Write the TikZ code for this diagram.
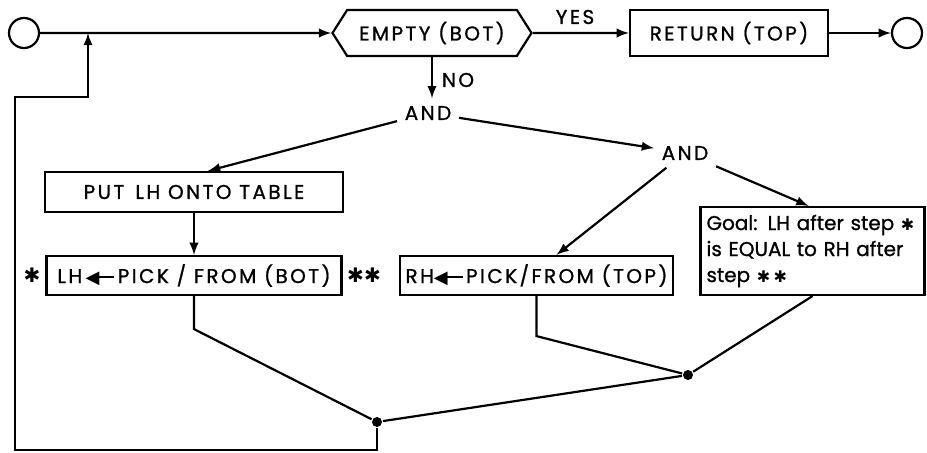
\documentclass[tikz,border=0pt]{standalone}
\usepackage{fontspec}
\setmainfont{Poppins}
\newfontfamily\lblfont{Poppins}[LetterSpace=12, FakeBold=1]
\newfontfamily\goalfont{Poppins}[FakeBold=1]
\newfontfamily\symfont{DejaVu Sans}
\newcommand{\bigstar}{{\symfont ✱}}
\newcommand{\smallstar}{{\symfont\footnotesize ✱}}
\newcommand{\larrow}{{\symfont\small ◀}\kern-2.5pt\rule[2.6pt]{10pt}{0.9pt}}
\usetikzlibrary{shapes.symbols}

\begin{document}
\begin{tikzpicture}[x=0.5pt, y=-0.5pt, line width=1.1pt,
    font=\fontsize{10}{13}\lblfont,
    box/.style={draw, rectangle, inner sep=0pt, minimum height=20pt},
    term/.style={draw, circle, minimum size=15pt, inner sep=0pt},
    joindot/.style={fill, circle, inner sep=0pt, minimum size=5pt}]

  \useasboundingbox (0,0) rectangle (927,453);

  % top row
  \node[term] (start) at (24,33) {};
  \node[draw, signal, signal to=west and east, signal pointer angle=115,
        minimum width=99.5pt, minimum height=23pt, inner sep=0pt] (test) at (432,33) {EMPTY (BOT)};
  \node[box, minimum width=99pt, minimum height=23pt] (ret) at (729,33) {RETURN (TOP)};
  \node[term] (stop) at (907,33) {};
  \node[anchor=center] (yes) at (575,17) {YES};
  \node[anchor=center] (no) at (458,80) {NO};

  \draw[-latex] (start) -- (test);
  \draw[-latex] (test) -- (ret);
  \draw[-latex] (ret) -- (stop);

  % the two ANDs
  \node (and1) at (428,113) {AND};
  \node (and2) at (685,153) {AND};
  \draw[-latex] (test.south) -- (test.south |- and1.north);
  \draw[-latex] (and1) -- (and2);

  % left branch
  \node[box, minimum width=149pt] (put) at (194,192) {PUT\, LH ONTO TABLE};
  \node[box, minimum width=147.5pt, minimum height=19.5pt] (pickl) at (194,275.5) {LH\,\larrow\,PICK / FROM (BOT)};
  \node (starl) at (32,275) {\bigstar};
  \draw[-latex] (and1) -- ([xshift=7pt]put.north);
  \draw[-latex] (put) -- (pickl);

  % right branch
  \node (starr) at (364,275) {\bigstar\bigstar};
  \node[box, minimum width=136.5pt, minimum height=19.5pt] (pickr) at (536.5,275.5) {RH\larrow\,PICK/FROM (TOP)};
  \node[draw, rectangle, inner xsep=3pt, inner ysep=0pt, minimum height=44pt,
        text width=106pt, align=left, font=\fontsize{10}{13}\goalfont] (goal) at (812.5,251)
        {Goal: LH after step \smallstar\\ is EQUAL to RH after\\ step \smallstar\,\smallstar};
  \draw[-latex] (and2) -- ([xshift=10pt]pickr.north);
  \draw[-latex] (and2) -- ([xshift=-2pt]goal.north);

  % joins at the bottom
  \node[joindot] (dot1) at (377,422) {};
  \node[joindot] (dot2) at (688,375) {};
  \coordinate (loopbl) at (15,450);
  \coordinate (looptl) at (88,97);
  \coordinate (back) at (88,33);

  \draw (pickl.south) -- ++(0,33) -- (dot1);
  \draw (pickr.south) -- ++(0,40) -- (dot2);
  \draw (goal.south) -- (dot2);
  \draw (dot2) -- (dot1);
  \draw[-latex] (dot1) |- (loopbl) |- (looptl) -- (back);

\end{tikzpicture}
\end{document}
